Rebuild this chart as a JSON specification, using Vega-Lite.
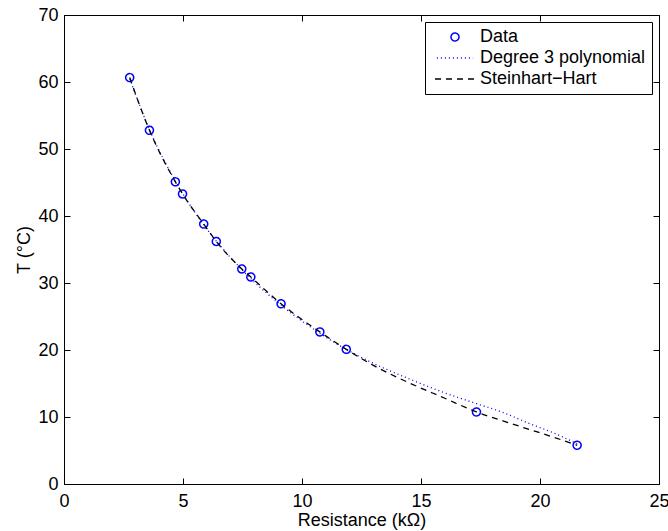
{
  "$schema": "https://vega.github.io/schema/vega-lite/v6.json",
  "width": 595,
  "height": 469,
  "autosize": {"type": "none"},
  "padding": {"left": 64, "top": 15, "right": 9, "bottom": 47},
  "background": "white",
  "config": {
    "font": "Liberation Sans",
    "view": {"stroke": "black", "strokeWidth": 1},
    "axis": {
      "grid": false,
      "domainColor": "black",
      "domainWidth": 1,
      "tickColor": "black",
      "tickWidth": 1,
      "tickSize": -6,
      "labelFont": "Liberation Sans",
      "labelFontSize": 18,
      "labelColor": "black",
      "titleFont": "Liberation Sans",
      "titleFontSize": 18,
      "titleFontWeight": "normal",
      "titleColor": "black"
    },
    "legend": {
      "labelFont": "Liberation Sans",
      "labelFontSize": 18,
      "labelColor": "black"
    }
  },
  "datasets": {
    "pts": [
      {"R": 2.76, "T": 60.66, "series": "Data"},
      {"R": 3.59, "T": 52.8, "series": "Data"},
      {"R": 4.68, "T": 45.1, "series": "Data"},
      {"R": 4.98, "T": 43.3, "series": "Data"},
      {"R": 5.87, "T": 38.8, "series": "Data"},
      {"R": 6.40, "T": 36.2, "series": "Data"},
      {"R": 7.47, "T": 32.1, "series": "Data"},
      {"R": 7.85, "T": 30.9, "series": "Data"},
      {"R": 9.12, "T": 26.9, "series": "Data"},
      {"R": 10.75, "T": 22.7, "series": "Data"},
      {"R": 11.86, "T": 20.1, "series": "Data"},
      {"R": 17.33, "T": 10.75, "series": "Data"},
      {"R": 21.56, "T": 5.78, "series": "Data"}
    ],
    "poly": [
      {"R": 2.76, "T": 60.5},
      {"R": 3.59, "T": 52.9},
      {"R": 4.68, "T": 45.2},
      {"R": 5.87, "T": 38.7},
      {"R": 7.47, "T": 32.0},
      {"R": 9.12, "T": 26.7},
      {"R": 10.75, "T": 22.5},
      {"R": 11.86, "T": 20.1},
      {"R": 13.0, "T": 18.0},
      {"R": 14.5, "T": 15.7},
      {"R": 16.0, "T": 13.6},
      {"R": 17.33, "T": 12.0},
      {"R": 18.5, "T": 10.6},
      {"R": 19.5, "T": 9.1},
      {"R": 20.65, "T": 7.5},
      {"R": 21.56, "T": 6.0}
    ],
    "sh": [
      {"R": 2.76, "T": 60.66},
      {"R": 3.59, "T": 52.8},
      {"R": 4.68, "T": 45.1},
      {"R": 4.98, "T": 43.3},
      {"R": 5.87, "T": 38.8},
      {"R": 6.40, "T": 36.2},
      {"R": 7.47, "T": 32.1},
      {"R": 7.85, "T": 30.9},
      {"R": 9.12, "T": 26.9},
      {"R": 10.75, "T": 22.7},
      {"R": 11.86, "T": 20.1},
      {"R": 13.0, "T": 17.7},
      {"R": 14.5, "T": 15.1},
      {"R": 16.0, "T": 12.8},
      {"R": 17.33, "T": 10.75},
      {"R": 18.5, "T": 9.35},
      {"R": 19.5, "T": 8.2},
      {"R": 20.6, "T": 6.95},
      {"R": 21.56, "T": 5.78}
    ]
  },
  "layer": [
    {
      "data": {"name": "pts"},
      "mark": {"type": "point", "filled": false, "strokeWidth": 1.5, "opacity": 1},
      "encoding": {
        "x": {
          "field": "R", "type": "quantitative",
          "scale": {"domain": [0, 25], "nice": false, "zero": false},
          "axis": {"orient": "bottom", "title": "Resistance (kΩ)", "values": [0, 5, 10, 15, 20, 25], "labelPadding": 14, "titlePadding": 1, "labelFlush": false, "labelDx": -3}
        },
        "y": {
          "field": "T", "type": "quantitative",
          "scale": {"domain": [0, 70], "nice": false, "zero": false},
          "axis": {"orient": "left", "title": "T (°C)", "values": [0, 10, 20, 30, 40, 50, 60, 70], "labelPadding": 12, "titlePadding": 4, "labelFlush": false}
        },
        "color": {
          "field": "series", "type": "nominal",
          "scale": {"domain": ["Data", "Degree 3 polynomial", "Steinhart−Hart"], "range": ["#0000ff", "#0000ff", "#000000"]},
          "legend": {
            "title": null, "orient": "top-right", "offset": 7,
            "fillColor": "white", "strokeColor": "black",
            "padding": 6, "rowPadding": 3, "labelOffset": 16, "labelLimit": 0,
            "symbolOffset": 15, "cornerRadius": 0
          }
        },
        "shape": {
          "field": "series", "type": "nominal",
          "scale": {"domain": ["Data", "Degree 3 polynomial", "Steinhart−Hart"], "range": ["circle", "M-4,0H4", "M-4,0H4"]}
        },
        "size": {
          "field": "series", "type": "nominal",
          "scale": {"domain": ["Data", "Degree 3 polynomial", "Steinhart−Hart"], "range": [64, 100, 100]}
        },
        "strokeDash": {
          "field": "series", "type": "nominal",
          "scale": {"domain": ["Data", "Degree 3 polynomial", "Steinhart−Hart"], "range": [[1, 0], [1, 3], [6, 5]]}
        }
      }
    },
    {
      "data": {"name": "poly"},
      "mark": {"type": "line", "strokeWidth": 1.3, "interpolate": "monotone", "color": "#0000ff", "strokeDash": [1, 3]},
      "encoding": {
        "x": {
          "field": "R", "type": "quantitative",
          "axis": {"orient": "top", "title": null, "labels": false, "values": [0, 5, 10, 15, 20, 25], "domain": false}
        },
        "y": {
          "field": "T", "type": "quantitative",
          "axis": {"orient": "right", "title": null, "labels": false, "values": [0, 10, 20, 30, 40, 50, 60, 70], "domain": false}
        }
      }
    },
    {
      "data": {"name": "sh"},
      "mark": {"type": "line", "strokeWidth": 1.3, "interpolate": "monotone", "color": "#000000", "strokeDash": [6, 5]},
      "encoding": {
        "x": {"field": "R", "type": "quantitative", "axis": null},
        "y": {"field": "T", "type": "quantitative", "axis": null}
      }
    }
  ],
  "resolve": {"axis": {"x": "independent", "y": "independent"}}
}
